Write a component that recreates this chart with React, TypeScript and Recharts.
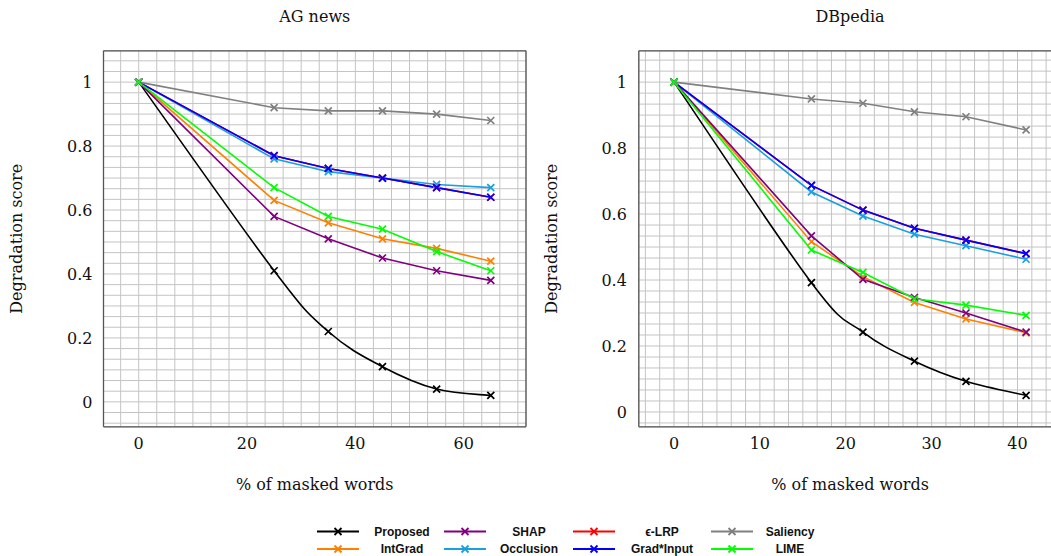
import React from 'react';
import { LineChart, Line, XAxis, YAxis, CartesianGrid } from 'recharts';

// AG news panel, % of masked words vs degradation score
const agMasked = [0, 25, 35, 45, 55, 65];
const agProposed = [1, 0.41, 0.22, 0.11, 0.04, 0.02];
const agIntGrad = [1, 0.63, 0.56, 0.51, 0.48, 0.44];
const agShap = [1, 0.58, 0.51, 0.45, 0.41, 0.38];
const agOcclusion = [1, 0.76, 0.72, 0.7, 0.68, 0.67];
const agLrp = [1, 0.77, 0.73, 0.7, 0.67, 0.64];
const agGradInput = [1, 0.77, 0.73, 0.7, 0.67, 0.64];
const agSaliency = [1, 0.92, 0.91, 0.91, 0.9, 0.88];
const agLime = [1, 0.67, 0.58, 0.54, 0.47, 0.41];

// DBpedia panel
const dbMasked = [0, 16, 22, 28, 34, 41];
const dbProposed = [1, 0.392, 0.242, 0.154, 0.093, 0.05];
const dbIntGrad = [1, 0.516, 0.41, 0.332, 0.282, 0.24];
const dbShap = [1, 0.534, 0.402, 0.347, 0.3, 0.242];
const dbOcclusion = [1, 0.667, 0.594, 0.539, 0.504, 0.463];
const dbLrp = [1, 0.687, 0.612, 0.557, 0.521, 0.48];
const dbGradInput = [1, 0.687, 0.612, 0.557, 0.521, 0.48];
const dbSaliency = [1, 0.949, 0.936, 0.91, 0.895, 0.855];
const dbLime = [1, 0.491, 0.423, 0.343, 0.324, 0.293];

const methodKeys = ['proposed', 'intgrad', 'shap', 'occlusion', 'lrp', 'gradinput', 'saliency', 'lime'];
const methodNames = ['Proposed', 'IntGrad', 'SHAP', 'Occlusion', 'ϵ-LRP', 'Grad*Input', 'Saliency', 'LIME'];
const methodColors = ['#000000', '#ff8000', '#800080', '#1a9fe0', '#ff0000', '#0000ff', '#808080', '#00ff00'];

const agXTicks = [0, 20, 40, 60];
const dbXTicks = [0, 10, 20, 30, 40];
const yTicks = [0, 0.2, 0.4, 0.6, 0.8, 1];

const SERIF = '"DejaVu Serif", serif';

const toRows = (xs: number[], series: number[][]) =>
  xs.map((x, i) => {
    const row: any = { x };
    methodKeys.forEach((k, j) => {
      row[k] = series[j][i];
    });
    return row;
  });

const agData = toRows(agMasked, [agProposed, agIntGrad, agShap, agOcclusion, agLrp, agGradInput, agSaliency, agLime]);
const dbData = toRows(dbMasked, [dbProposed, dbIntGrad, dbShap, dbOcclusion, dbLrp, dbGradInput, dbSaliency, dbLime]);

// five minor ticks between majors, like the pgfplots grid
const minorTicks = (majors: number[], domain: [number, number]) => {
  const step = (majors[1] - majors[0]) / 6;
  const out: number[] = [];
  for (let k = Math.ceil((domain[0] - majors[0]) / step); majors[0] + k * step <= domain[1] + 1e-9; k++) {
    out.push(+(majors[0] + k * step).toFixed(6));
  }
  return out;
};

const majorOnly = (majors: number[]) => (v: number) =>
  majors.some((m) => Math.abs(m - v) < 1e-6) ? String(v) : '';

// cardinal spline roughly like pgfplots "smooth" (tension 0.55)
const pgfSmooth = (context: any) => {
  let pts: number[][] = [];
  const k = 0.55 / 3;
  return {
    areaStart() {},
    areaEnd() {},
    lineStart() {
      pts = [];
    },
    point(x: number, y: number) {
      pts.push([+x, +y]);
    },
    lineEnd() {
      const n = pts.length;
      if (!n) return;
      context.moveTo(pts[0][0], pts[0][1]);
      for (let i = 0; i < n - 1; i++) {
        const p0 = pts[Math.max(i - 1, 0)];
        const p1 = pts[i];
        const p2 = pts[i + 1];
        const p3 = pts[Math.min(i + 2, n - 1)];
        context.bezierCurveTo(
          p1[0] + k * (p2[0] - p0[0]),
          p1[1] + k * (p2[1] - p0[1]),
          p2[0] - k * (p3[0] - p1[0]),
          p2[1] - k * (p3[1] - p1[1]),
          p2[0],
          p2[1],
        );
      }
    },
  };
};

const cross = (color: string) => (props: any) => {
  const { cx, cy, index, dataKey } = props;
  const r = 3.5;
  return (
    <path
      key={`${dataKey}-${index}`}
      d={`M${cx - r},${cy - r}L${cx + r},${cy + r}M${cx - r},${cy + r}L${cx + r},${cy - r}`}
      stroke={color}
      strokeWidth={1.7}
      fill="none"
    />
  );
};

const FRAME = { stroke: '#555', strokeWidth: 1.3 };
const TICK = { stroke: '#888', strokeWidth: 1 };

interface PanelProps {
  title: string;
  data: any[];
  left: number;
  yAxisWidth: number;
  xDomain: [number, number];
  yDomain: [number, number];
  xMajor: number[];
  labelGap: number;
}

const PLOT_TOP = 50.8;
const PLOT_H = 376;
const PLOT_W = 422.5;
const X_AXIS_H = 70;

const Panel = ({ title, data, left, yAxisWidth, xDomain, yDomain, xMajor, labelGap }: PanelProps) => {
  const xMinor = minorTicks(xMajor, xDomain);
  const yMinor = minorTicks(yTicks, yDomain);
  const width = yAxisWidth + PLOT_W + 10;
  const height = PLOT_TOP + PLOT_H + X_AXIS_H;
  const common = { type: 'number' as const, allowDataOverflow: true, interval: 0 as const };

  return (
    <div style={{ position: 'absolute', left, top: 0 }}>
      <div
        style={{
          position: 'absolute',
          left: yAxisWidth,
          top: 7,
          width: PLOT_W,
          textAlign: 'center',
          fontFamily: SERIF,
          fontSize: 16,
          lineHeight: '20px',
          color: '#111',
        }}
      >
        {title}
      </div>
      <LineChart width={width} height={height} data={data} margin={{ top: PLOT_TOP, right: 10, bottom: 0, left: 0 }}>
        <CartesianGrid xAxisId="x" yAxisId="y" stroke="#c4c4c4" strokeWidth={1} />
        <XAxis
          {...common}
          xAxisId="x"
          dataKey="x"
          domain={xDomain}
          ticks={xMinor}
          tickFormatter={majorOnly(xMajor)}
          tickLine={false}
          tickSize={5}
          tickMargin={6}
          height={X_AXIS_H}
          axisLine={FRAME}
          tick={{ fontFamily: SERIF, fontSize: 16, fill: '#111' }}
          label={{ value: '% of masked words', position: 'insideBottom', offset: 7, style: { fontFamily: SERIF, fontSize: 16, fill: '#111' } }}
        />
        <XAxis {...common} xAxisId="xb1" mirror domain={xDomain} ticks={xMinor} tick={false} tickSize={6} tickLine={TICK} axisLine={false} />
        <XAxis {...common} xAxisId="xb2" mirror domain={xDomain} ticks={xMajor} tick={false} tickSize={9} tickLine={TICK} axisLine={false} />
        <XAxis {...common} xAxisId="xt1" orientation="top" mirror domain={xDomain} ticks={xMinor} tick={false} tickSize={6} tickLine={TICK} axisLine={FRAME} />
        <XAxis {...common} xAxisId="xt2" orientation="top" mirror domain={xDomain} ticks={xMajor} tick={false} tickSize={9} tickLine={TICK} axisLine={false} />
        <YAxis
          {...common}
          yAxisId="y"
          domain={yDomain}
          ticks={yMinor}
          tickFormatter={majorOnly(yTicks)}
          tickLine={false}
          tickSize={5}
          tickMargin={labelGap - 5}
          width={yAxisWidth}
          axisLine={FRAME}
          tick={{ fontFamily: SERIF, fontSize: 16, fill: '#111' }}
          label={{
            value: 'Degradation score',
            angle: -90,
            position: 'center',
            dx: 16 - yAxisWidth / 2,
            style: { fontFamily: SERIF, fontSize: 16, fill: '#111' },
          }}
        />
        <YAxis {...common} yAxisId="yl1" mirror domain={yDomain} ticks={yMinor} tick={false} tickSize={6} tickLine={TICK} axisLine={false} />
        <YAxis {...common} yAxisId="yl2" mirror domain={yDomain} ticks={yTicks} tick={false} tickSize={9} tickLine={TICK} axisLine={false} />
        <YAxis {...common} yAxisId="yr1" orientation="right" mirror domain={yDomain} ticks={yMinor} tick={false} tickSize={6} tickLine={TICK} axisLine={FRAME} />
        <YAxis {...common} yAxisId="yr2" orientation="right" mirror domain={yDomain} ticks={yTicks} tick={false} tickSize={9} tickLine={TICK} axisLine={false} />
        {methodKeys.map((k, j) => (
          <Line
            key={k}
            xAxisId="x"
            yAxisId="y"
            dataKey={k}
            name={methodNames[j]}
            type={k === 'proposed' ? (pgfSmooth as any) : 'linear'}
            stroke={methodColors[j]}
            strokeWidth={1.6}
            dot={cross(methodColors[j])}
            activeDot={false}
            isAnimationActive={false}
          />
        ))}
      </LineChart>
    </div>
  );
};

// legend: 4 columns x 2 rows, filled column by column
const legendSampleX = [317, 444, 573, 711];
const legendTextX = [402, 529, 662, 790];
const legendRowY = [531.5, 549];

const Legend = () => (
  <svg width={1051} height={556} style={{ position: 'absolute', left: 0, top: 0 }}>
    {methodNames.map((name, i) => {
      const col = Math.floor(i / 2);
      const row = i % 2;
      const x0 = legendSampleX[col];
      const y = legendRowY[row];
      const c = methodColors[i];
      const mx = x0 + 21;
      return (
        <g key={name}>
          <line x1={x0} x2={x0 + 42} y1={y} y2={y} stroke={c} strokeWidth={1.8} />
          <path d={`M${mx - 3.5},${y - 3.5}L${mx + 3.5},${y + 3.5}M${mx - 3.5},${y + 3.5}L${mx + 3.5},${y - 3.5}`} stroke={c} strokeWidth={1.8} />
          <text
            x={legendTextX[col]}
            y={y + 4.3}
            textAnchor="middle"
            fontFamily='"Liberation Sans", Arial, sans-serif'
            fontWeight="bold"
            fontSize={12}
            fill="#111"
          >
            {name}
          </text>
        </g>
      );
    })}
  </svg>
);

export default function App() {
  return (
    <div style={{ position: 'absolute', left: 0, top: 0, width: 1051, height: 556, overflow: 'hidden', background: '#fff' }}>
      <Panel title="AG news" data={agData} left={0} yAxisWidth={103.5} xDomain={[-6.5, 71.5]} yDomain={[-0.078, 1.098]} xMajor={agXTicks} labelGap={11} />
      <Panel title="DBpedia" data={dbData} left={535} yAxisWidth={103.8} xDomain={[-4.1, 45.1]} yDomain={[-0.045, 1.095]} xMajor={dbXTicks} labelGap={12} />
      <Legend />
    </div>
  );
}
